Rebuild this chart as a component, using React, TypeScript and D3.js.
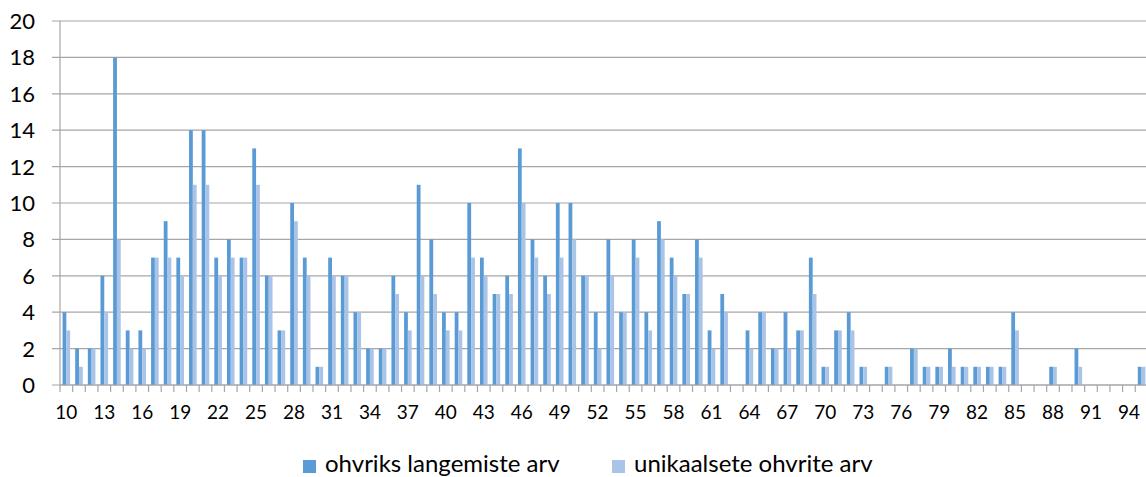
import React from 'react'
import * as d3 from 'd3'

// ages 10..95
const CATEGORIES = [
  10, 11, 12, 13, 14, 15, 16, 17, 18, 19, 20, 21, 22, 23, 24, 25, 26, 27, 28, 29,
  30, 31, 32, 33, 34, 35, 36, 37, 38, 39, 40, 41, 42, 43, 44, 45, 46, 47, 48, 49,
  50, 51, 52, 53, 54, 55, 56, 57, 58, 59, 60, 61, 62, 63, 64, 65, 66, 67, 68, 69,
  70, 71, 72, 73, 74, 75, 76, 77, 78, 79, 80, 81, 82, 83, 84, 85, 86, 87, 88, 89,
  90, 91, 92, 93, 94, 95,
]

// ohvriks langemiste arv
const FALLS = [
  4, 2, 2, 6, 18, 3, 3, 7, 9, 7, 14, 14, 7, 8, 7, 13, 6, 3, 10, 7,
  1, 7, 6, 4, 2, 2, 6, 4, 11, 8, 4, 4, 10, 7, 5, 6, 13, 8, 6, 10,
  10, 6, 4, 8, 4, 8, 4, 9, 7, 5, 8, 3, 5, 0, 3, 4, 2, 4, 3, 7,
  1, 3, 4, 1, 0, 1, 0, 2, 1, 1, 2, 1, 1, 1, 1, 4, 0, 0, 1, 0,
  2, 0, 0, 0, 0, 1,
]

// unikaalsete ohvrite arv
const UNIQUE = [
  3, 1, 2, 4, 8, 2, 2, 7, 7, 6, 11, 11, 6, 7, 7, 11, 6, 3, 9, 6,
  1, 6, 6, 4, 2, 2, 5, 3, 6, 5, 3, 3, 7, 6, 5, 5, 10, 7, 5, 7,
  8, 6, 2, 6, 4, 7, 3, 8, 6, 5, 7, 2, 4, 0, 2, 4, 2, 2, 3, 5,
  1, 3, 3, 1, 0, 1, 0, 2, 1, 1, 1, 1, 1, 1, 1, 3, 0, 0, 1, 0,
  1, 0, 0, 0, 0, 1,
]

const SERIES = [
  { name: 'ohvriks langemiste arv', values: FALLS, color: '#5b9bd5' },
  { name: 'unikaalsete ohvrite arv', values: UNIQUE, color: '#a9c4e6' },
]

const Y_TICKS = [0, 2, 4, 6, 8, 10, 12, 14, 16, 18, 20]
const X_LABELS = [10, 13, 16, 19, 22, 25, 28, 31, 34, 37, 40, 43, 46, 49, 52, 55, 58, 61, 64, 67, 70, 73, 76, 79, 82, 85, 88, 91, 94]

const W = 1146
const H = 477
const FONT = "Lato, 'Open Sans', sans-serif"

export default function App() {
  const left = 60
  const right = left + CATEGORIES.length * 12.65
  const top = 21
  const bottom = 385

  const x = d3.scaleBand<number>().domain(CATEGORIES).range([left, right]).padding(0)
  const bw = x.bandwidth()
  const inner = d3.scaleBand<number>().domain([0, 1]).range([bw * 0.2, bw * 0.8]).padding(0)
  const y = d3.scaleLinear().domain([0, 20]).range([bottom, top])

  return (
    <svg
      width={W}
      height={H}
      style={{ position: 'absolute', left: 0, top: 0, background: '#fff' }}
      fontFamily={FONT}
    >
      {/* gridlines + y ticks */}
      {Y_TICKS.map(t => (
        <g key={t}>
          <line x1={left - 8} x2={W} y1={y(t)} y2={y(t)} stroke="#a6a6a6" strokeWidth={1.2} />
          <text x={35} y={y(t)} dy="0.36em" textAnchor="end" fontSize={22} fill="#000">
            {t}
          </text>
        </g>
      ))}

      {/* bars */}
      {SERIES.map((s, si) =>
        s.values.map((v, i) =>
          v > 0 ? (
            <rect
              key={`${si}-${i}`}
              x={(x(CATEGORIES[i]) ?? 0) + (inner(si) ?? 0)}
              y={y(v)}
              width={inner.bandwidth()}
              height={y(0) - y(v)}
              fill={s.color}
            />
          ) : null
        )
      )}

      {/* axes */}
      <line x1={left} x2={left} y1={top} y2={bottom} stroke="#a6a6a6" strokeWidth={1.2} />
      <line x1={left} x2={W} y1={bottom} y2={bottom} stroke="#a6a6a6" strokeWidth={1.2} />
      {CATEGORIES.map(c => (
        <line
          key={c}
          x1={x(c)}
          x2={x(c)}
          y1={bottom}
          y2={bottom + 7}
          stroke="#a6a6a6"
          strokeWidth={1.2}
        />
      ))}
      {X_LABELS.map(c => (
        <text
          key={c}
          x={(x(c) ?? 0) + bw / 2}
          y={419}
          textAnchor="middle"
          fontSize={19}
          fill="#000"
        >
          {c}
        </text>
      ))}

      {/* legend */}
      <g>
        <rect x={303} y={460} width={13} height={13} fill={SERIES[0].color} />
        <text x={325} y={472} fontSize={24} fill="#000">{SERIES[0].name}</text>
        <rect x={612} y={460} width={13} height={13} fill={SERIES[1].color} />
        <text x={634} y={472} fontSize={24} fill="#000">{SERIES[1].name}</text>
      </g>
    </svg>
  )
}
